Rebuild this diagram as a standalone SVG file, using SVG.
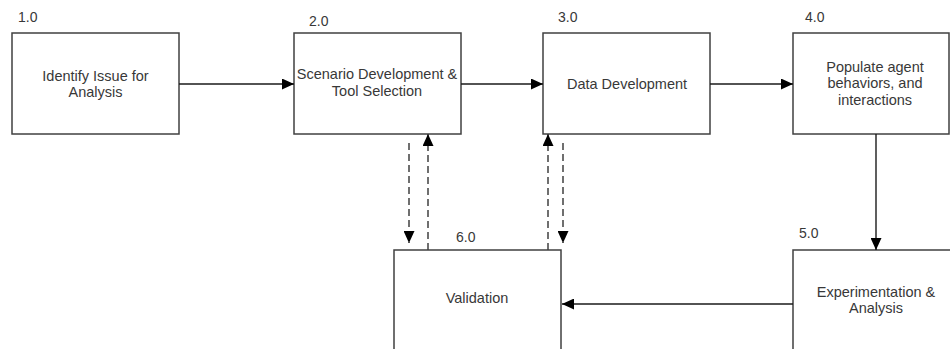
<svg xmlns="http://www.w3.org/2000/svg" width="950" height="349" viewBox="0 0 950 349">
<style>
.box{fill:#fff;stroke:#404040;stroke-width:1.5}
.t{font-family:"Liberation Sans",Arial,sans-serif;font-size:14.5px;fill:#383838;text-anchor:middle}
.n{font-family:"Liberation Sans",Arial,sans-serif;font-size:14px;fill:#383838}
.c{fill:none;stroke:#1a1a1a;stroke-width:1.4;marker-end:url(#ah)}
.d{fill:none;stroke:#404040;stroke-width:1.5;stroke-dasharray:7,4;marker-end:url(#ah)}
</style>
<defs>
<marker id="ah" markerUnits="userSpaceOnUse" markerWidth="12" markerHeight="11" refX="12" refY="5.5" orient="auto">
<path d="M0,0 L12,5.5 L0,11 Z" fill="#000"/>
</marker>
</defs>
<rect width="950" height="349" fill="#fff"/>
<g id="node1">
<text class="n" x="18" y="22">1.0</text>
<rect class="box" x="12" y="33" width="167" height="101"/>
<text class="t" x="95.5" y="81">Identify Issue for</text>
<text class="t" x="95.5" y="97">Analysis</text>
</g>
<g id="node2">
<text class="n" x="309" y="26">2.0</text>
<rect class="box" x="294" y="33" width="167" height="101"/>
<text class="t" x="377" y="79">Scenario Development &amp;</text>
<text class="t" x="377" y="96">Tool Selection</text>
</g>
<g id="node3">
<text class="n" x="558" y="22">3.0</text>
<rect class="box" x="543" y="33" width="167" height="101"/>
<text class="t" x="627" y="88.5">Data Development</text>
</g>
<g id="node4">
<text class="n" x="805" y="22">4.0</text>
<rect class="box" x="793" y="33" width="156" height="101"/>
<text class="t" x="875" y="71.5">Populate agent</text>
<text class="t" x="875" y="88">behaviors, and</text>
<text class="t" x="875" y="104.5">interactions</text>
</g>
<g id="node5">
<text class="n" x="799" y="238">5.0</text>
<rect class="box" x="793" y="250" width="170" height="120"/>
<text class="t" x="876" y="297">Experimentation &amp;</text>
<text class="t" x="876" y="313">Analysis</text>
</g>
<g id="node6">
<text class="n" x="456" y="242">6.0</text>
<rect class="box" x="394" y="250" width="167" height="120"/>
<text class="t" x="477" y="303">Validation</text>
</g>
<g id="connectors">
<path class="c" d="M179,84 H294"/>
<path class="c" d="M461,84 H543"/>
<path class="c" d="M710,84 H793"/>
<path class="c" d="M876,134 V250"/>
<path class="c" d="M793,304 H562"/>
<path class="d" d="M409,143 V243"/>
<path class="d" d="M428,250 V134"/>
<path class="d" d="M548,250 V134"/>
<path class="d" d="M563,143 V243"/>
</g>
</svg>
